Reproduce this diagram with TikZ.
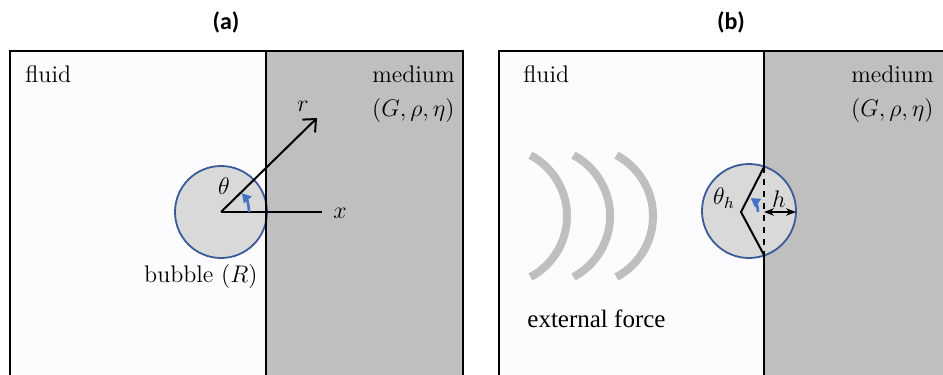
\documentclass[tikz,border=0pt]{standalone}
\usepackage{fontspec}
\newfontfamily\titlefont{Carlito}
\newfontfamily\timesfont{Liberation Serif}
\usetikzlibrary{arrows.meta}
\definecolor{fluidcol}{HTML}{FCFCFF}
\definecolor{mediumcol}{HTML}{BFBFBF}
\definecolor{bubblecol}{HTML}{D9D9D9}
\definecolor{bubbleedge}{HTML}{3A5A9A}
\definecolor{anglecol}{HTML}{4472C4}
\tikzset{
    wall/.style = {line width=1pt},
    bubble/.style = {draw=bubbleedge, line width=0.9pt, fill=bubblecol},
    angle arrow/.style = {anglecol, line width=1.3pt, -{Triangle[length=4.5pt,width=5pt]}},
    wave/.style = {mediumcol, line width=4pt},
    label text/.style = {font=\fontsize{12}{14}\selectfont, inner sep=0pt},
    title text/.style = {font=\titlefont\bfseries\fontsize{12}{14}\selectfont}
}
\begin{document}
\begin{tikzpicture}[x=0.5pt, y=-0.5pt]
        \useasboundingbox (0, 0) rectangle (943, 375);
        % panel (a)
        \fill[fluidcol] (10, 51) rectangle (266, 375);
        \fill[mediumcol] (266, 51) rectangle (463, 375);
        \draw[bubble] (221, 212) circle (23pt);
        \draw[wall] (10, 375) -- (10, 51) -- (463, 51) -- (463, 375);
        \draw[wall] (266, 51) -- (266, 375);
        \coordinate (ca) at (221, 212);
        \coordinate (xa) at (322, 212);
        \coordinate (ra) at (317, 118);
        \draw[line width=1pt] (ca) -- (xa);
        \draw[line width=1pt, -{Straight Barb[length=5pt, width=9pt]}] (ca) -- (ra);
        \draw[angle arrow] (249, 212) arc[start angle=0, end angle=42, radius=14pt];
        \node[title text] (ta) at (226, 22) {(a)};
        \node[label text, anchor=base west] (fluida) at (25, 83) {fluid};
        \node[label text, anchor=base east] (mediuma) at (455, 83) {medium};
        \node[label text, anchor=base east] (parama) at (455, 116) {$(G,\rho,\eta)$};
        \node[label text] (xlab) at (340, 213) {$x$};
        \node[label text] (rlab) at (303, 106) {$r$};
        \node[label text] (thlab) at (224, 186) {$\theta$};
        \node[label text, anchor=base east] (bubblea) at (258, 282) {bubble $(R)$};
        % panel (b)
        \fill[fluidcol] (499, 51) rectangle (764, 375);
        \fill[mediumcol] (764, 51) rectangle (943, 375);
        \foreach \cx in {498, 541, 584}
            \draw[wave] ({\cx + 32.4}, 277) arc[start angle=-62, end angle=62, radius=34.5pt];
        \draw[bubble] (749, 211) circle (23.5pt);
        \draw[wall] (499, 375) -- (499, 51) -- (943, 51);
        \coordinate (cb) at (741, 212);
        \coordinate (topb) at (764, 167);
        \coordinate (botb) at (764, 255);
        \coordinate (hl) at (764, 212);
        \coordinate (hr) at (796, 212);
        \draw[wall] (764, 51) -- (topb);
        \draw[wall] (botb) -- (764, 375);
        \draw[line width=0.9pt, dashed] (topb) -- (botb);
        \draw[line width=1pt] (topb) -- (cb) -- (botb);
        \draw[line width=1pt, {Stealth[length=5pt]}-{Stealth[length=5pt]}] (hl) -- (hr);
        \draw[angle arrow] (758, 212) arc[start angle=0, end angle=55, radius=8.5pt];
        \node[title text] (tb) at (731, 22) {(b)};
        \node[label text, anchor=base west] (fluidb) at (523, 83) {fluid};
        \node[label text, anchor=base east] (mediumb) at (934, 83) {medium};
        \node[label text, anchor=base east] (paramb) at (934, 116) {$(G,\rho,\eta)$};
        \node[label text] (hlab) at (779, 199) {$h$};
        \node[label text] (thhlab) at (724, 198) {$\theta_h$};
        \node[label text, font=\timesfont\fontsize{12.5}{14}\selectfont, anchor=base west] (forceb) at (527, 327) {external force};
    \end{tikzpicture}
\end{document}
